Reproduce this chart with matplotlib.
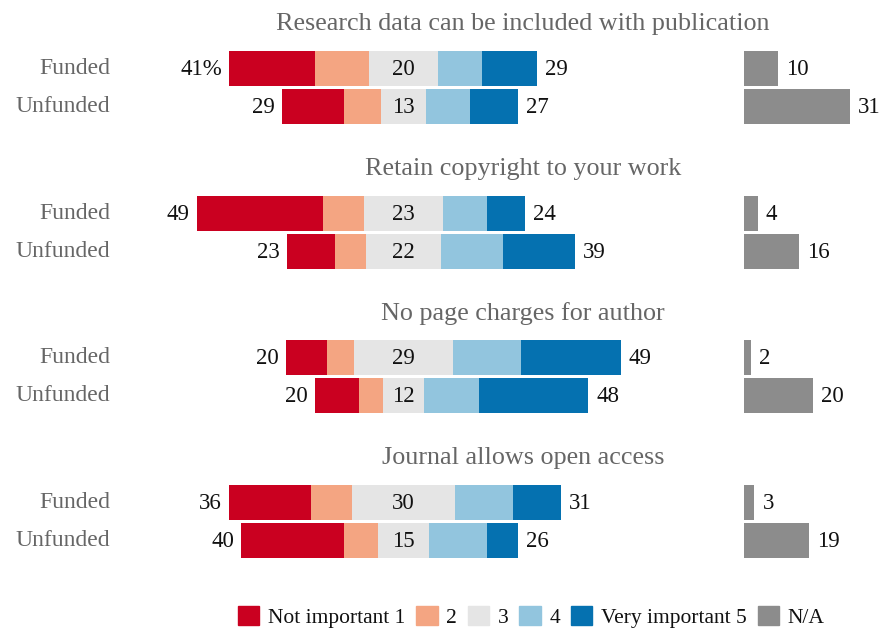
import matplotlib
matplotlib.use("Agg")
import matplotlib.pyplot as plt
from matplotlib.patches import Rectangle

titles = ["Research data can be included with publication",
          "Retain copyright to your work",
          "No page charges for author",
          "Journal allows open access"]
groups = ["Funded", "Unfunded"]
# columns: 1 (not important), 2, 3, 4, 5 (very important), N/A
v1 = [[25, 18], [37, 14], [12, 13], [24, 30]]
v2 = [[16, 11], [12, 9], [8, 7], [12, 10]]
v3 = [[20, 13], [23, 22], [29, 12], [30, 15]]
v4 = [[13, 13], [13, 18], [20, 16], [17, 17]]
v5 = [[16, 14], [11, 21], [29, 32], [14, 9]]
na = [[10, 31], [4, 16], [2, 20], [3, 19]]
left_labels = [["41%", "29"], ["49", "23"], ["20", "20"], ["36", "40"]]
right_labels = [["29", "27"], ["24", "39"], ["49", "48"], ["31", "26"]]

colors = ["#ca0020", "#f4a582", "#e5e5e5", "#92c5de", "#0571b0"]
na_color = "#8c8c8c"
legend_labels = ["Not important 1", "2", "3", "4", "Very important 5", "N/A"]

W, H = 881, 628
fig = plt.figure(figsize=(W / 100, H / 100), dpi=100)
ax = fig.add_axes([0, 0, 1, 1])
scale = 3.42  # px per percent
cx = 403.5
na_x0 = 99.6
ax.set_xlim(-cx / scale, (W - cx) / scale)
ax.set_ylim(H, 0)
ax.axis("off")

font = "Liberation Serif"
bh = 35
for p in range(4):
    base = p * 144.7
    ax.text((523 - cx) / scale, base + 24, titles[p], ha="center", va="center",
            fontsize=18.8, color="#666666", family=font)
    for g in range(2):
        yc = base + 68.5 + g * 38
        vals = [v1[p][g], v2[p][g], v3[p][g], v4[p][g], v5[p][g]]
        start = -vals[0] - vals[1] - vals[2] / 2
        x = start
        for k, v in enumerate(vals):
            ax.barh(yc, v, left=x, height=bh, color=colors[k], linewidth=0)
            x += v
        end = x
        ax.text(0, yc + 1, str(v3[p][g]),
                ha="center", va="center", fontsize=16.5, color="#111111", family=font)
        ax.text(start - 7 / scale, yc + 1, left_labels[p][g], ha="right", va="center",
                fontsize=16.5, color="#111111", family=font)
        ax.text(end + 8 / scale, yc + 1, right_labels[p][g], ha="left", va="center",
                fontsize=16.5, color="#111111", family=font)
        ax.barh(yc, na[p][g], left=na_x0, height=bh, color=na_color, linewidth=0)
        ax.text(na_x0 + na[p][g] + 8 / scale, yc + 1, str(na[p][g]), ha="left", va="center",
                fontsize=16.5, color="#111111", family=font)
        ax.text((110 - cx) / scale, yc, groups[g], ha="right", va="center",
                fontsize=17, color="#666666", family=font)

# legend
handles = [Rectangle((0, 0), 1, 1, color=c) for c in colors + [na_color]]
leg = fig.legend(handles, legend_labels, loc="center", bbox_to_anchor=(0.603, 0.018),
                 ncol=6, frameon=False, prop={"family": font, "size": 15.5},
                 handlelength=1.0, handleheight=1.0, handletextpad=0.4,
                 columnspacing=0.5, borderaxespad=0)
for t in leg.get_texts():
    t.set_color("#111111")

fig.savefig("out.png", dpi=100)
